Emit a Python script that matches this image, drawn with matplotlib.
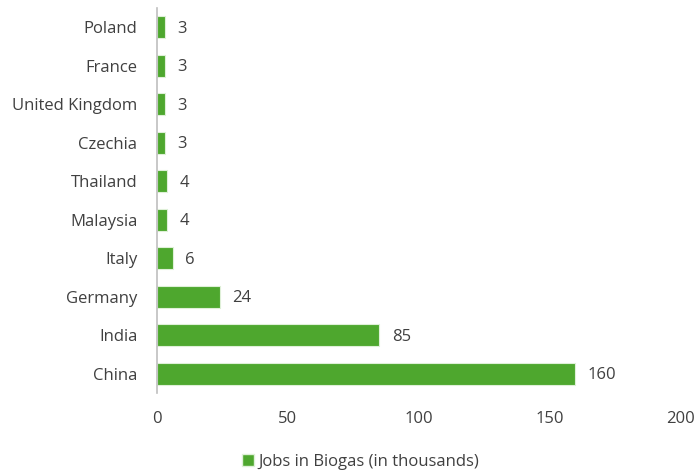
import matplotlib
matplotlib.use("Agg")
import matplotlib.pyplot as plt
from matplotlib.patches import Patch

countries = ["Poland", "France", "United Kingdom", "Czechia", "Thailand",
             "Malaysia", "Italy", "Germany", "India", "China"]
jobs = [3, 3, 3, 3, 4, 4, 6, 24, 85, 160]
x_ticks = [0, 50, 100, 150, 200]
series_name = "Jobs in Biogas (in thousands)"

bar_color = "#4EA72E"
text_color = "#404040"

plt.rcParams["font.family"] = ["Open Sans", "DejaVu Sans"]
fs = 12

fig = plt.figure(figsize=(6.94, 4.73), dpi=100)
ax = fig.add_axes([0.226, 0.169, 0.754, 0.814])

pos = list(range(len(countries)))[::-1]
ax.barh(pos, jobs, height=0.57, color=bar_color, edgecolor="#DFF0D8", linewidth=0.8)

for p, v in zip(pos, jobs):
    ax.annotate(f"{v}", (v, p), xytext=(9, -1), textcoords="offset points",
                va="center", ha="left", fontsize=fs, color=text_color)

ax.set_yticks(pos)
ax.set_yticklabels(countries, fontsize=fs, color=text_color)
ax.set_xticks(x_ticks)
ax.set_xticklabels([str(t) for t in x_ticks], fontsize=fs, color=text_color)
ax.set_xlim(0, 200)
ax.set_ylim(-0.5, len(countries) - 0.5)

for s in ["top", "right", "bottom"]:
    ax.spines[s].set_visible(False)
ax.spines["left"].set_color("#BFBFBF")
ax.spines["left"].set_linewidth(1.2)
ax.tick_params(axis="both", length=0)
ax.tick_params(axis="y", pad=14)
ax.tick_params(axis="x", pad=13)

handle = Patch(facecolor=bar_color, edgecolor="#DFF0D8")
fig.legend([handle], [series_name], loc="center", bbox_to_anchor=(0.52, 0.023),
           frameon=False, fontsize=fs, handlelength=0.7, handleheight=0.7,
           handletextpad=0.3, labelcolor=text_color)

fig.savefig("out.png", dpi=100)
